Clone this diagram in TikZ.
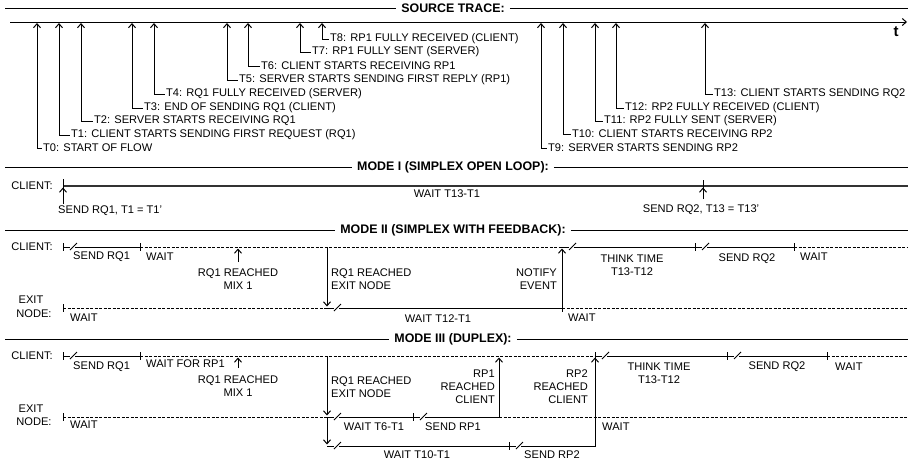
\documentclass[tikz,border=0pt]{standalone}
\usepackage{fontspec}
\setmainfont{Liberation Sans}
\usetikzlibrary{arrows.meta}
\begin{document}
\begin{tikzpicture}[x=1pt,y=-1pt,
  lbl/.style={font=\fontsize{11.1}{13}\selectfont, inner sep=0pt},
  hdr/.style={font=\bfseries\fontsize{12.4}{13}\selectfont, inner sep=0pt},
  ln/.style={line width=1pt},
  dl/.style={line width=1pt, dash pattern=on 3pt off 1.5pt},
  arr/.style={line width=1pt, -{Straight Barb[length=4pt,width=7pt]}},
  brk/.pic={\draw[line width=0.8pt] (0,3) -- (7,-4);},
  tk/.pic={\draw[line width=1pt] (0,-4) -- (0,4);}
]
\useasboundingbox (0,0) rectangle (913,464);

% ---------- headers ----------
\foreach \h/\y/\txt in {h0/8/{SOURCE TRACE:}, h1/167/{MODE I (SIMPLEX OPEN LOOP):}, h2/230/{MODE II (SIMPLEX WITH FEEDBACK):}, h3/339/{MODE III (DUPLEX):}} {
  \node[hdr] (\h) at (453,\y) {\txt};
  \coordinate (\h l) at (5,\y);
  \coordinate (\h r) at (908,\y);
  \draw[ln] (\h l) -- ([xshift=-5pt]\h.west);
  \draw[ln] ([xshift=5pt]\h.east) -- (\h r);
}

% ---------- source trace ----------
\coordinate (ax0) at (10,22);
\coordinate (ax1) at (907,22);
\draw[arr] (ax0) -- (ax1);
\node[font=\bfseries\fontsize{15}{15}\selectfont, inner sep=0pt] (tt) at (896,32) {t};

\foreach \n/\ax/\tx/\ty/\txt in {
  0/37/43/148/{T0: START OF FLOW},
  1/59/71/135/{T1: CLIENT STARTS SENDING FIRST REQUEST (RQ1)},
  2/81/94/121/{T2: SERVER STARTS RECEIVING RQ1},
  3/132/144/108/{T3: END OF SENDING RQ1 (CLIENT)},
  4/154/166/94/{T4: RQ1 FULLY RECEIVED (SERVER)},
  5/227/239/80/{T5: SERVER STARTS SENDING FIRST REPLY (RP1)},
  6/248/261/66/{T6: CLIENT STARTS RECEIVING RP1},
  7/300/312/52/{T7: RP1 FULLY SENT (SERVER)},
  8/322/330/39/{T8: RP1 FULLY RECEIVED (CLIENT)},
  9/541/548/148/{T9: SERVER STARTS SENDING RP2},
  10/563/572/134/{T10: CLIENT STARTS RECEIVING RP2},
  11/595/604/121/{T11: RP2 FULLY SENT (SERVER)},
  12/616/625/108/{T12: RP2 FULLY RECEIVED (CLIENT)},
  13/705/714/94/{T13: CLIENT STARTS SENDING RQ2}} {
  \coordinate (a\n) at (\ax,23);
  \node[lbl, anchor=west] (s\n) at (\tx,\ty) {\txt};
  \draw[arr] ([xshift=-1.5pt]s\n.west) -| (a\n);
}

% ---------- mode I ----------
\node[lbl, anchor=east] (c1) at (53,186) {CLIENT:};
\coordinate (m1s) at (63,186);
\coordinate (m1e) at (908,186);
\draw[line width=1.3pt, black!80] (m1s) -- (m1e);
\draw[ln] (63,179) -- (63,193);
\coordinate (m1ab) at (63,204);
\coordinate (m1at) at (63,187.5);
\draw[arr] (m1ab) -- (m1at);
\node[lbl, anchor=west] (m1l1) at (58,211) {SEND RQ1, T1 = T1'};
\node[lbl] (m1w) at (447,194) {WAIT T13-T1};
\draw[ln] (703,180) -- (703,192);
\coordinate (m1bb) at (703,199);
\coordinate (m1bt) at (703,187.5);
\draw[arr] (m1bb) -- (m1bt);
\node[lbl] (m1l2) at (701,210) {SEND RQ2, T13 = T13'};

% ---------- mode II ----------
\node[lbl, anchor=east] (c2) at (53,247) {CLIENT:};
\node[lbl] (e2a) at (31,300) {EXIT};
\node[lbl] (e2b) at (34,314) {NODE:};
% client line
\pic at (63,247) {tk};
\draw[ln] (63,247) -- (70,247);
\pic at (70,247) {brk};
\draw[ln] (75,247) -- (140,247);
\pic at (140,247) {tk};
\draw[dl] (140,247) -- (562,247);
\draw[ln] (562,247) -- (569,247);
\pic at (569,247) {brk};
\draw[ln] (574,247) -- (695,247);
\pic at (695,247) {tk};
\draw[ln] (695,247) -- (702,247);
\pic at (702,247) {brk};
\draw[ln] (707,247) -- (794,247);
\pic at (794,247) {tk};
\draw[dl] (794,247) -- (908,247);
% exit line
\pic at (63,308) {tk};
\draw[dl] (63,308) -- (327,308);
\draw[ln] (327,308) -- (334,308);
\pic at (334,308) {brk};
\draw[ln] (339,308) -- (562,308);
\pic at (562,308) {tk};
\draw[dl] (562,308) -- (908,308);
% arrows
\coordinate (m2mb) at (238,262);
\coordinate (m2mt) at (238,248.5);
\draw[arr] (m2mb) -- (m2mt);
\coordinate (m2xa) at (327,247);
\coordinate (m2xb) at (327,306.5);
\draw[arr] (m2xa) -- (m2xb);
\coordinate (m2nb) at (562,308);
\coordinate (m2nt) at (562,248.5);
\draw[arr] (m2nb) -- (m2nt);
% labels
\node[lbl, anchor=west] (m2l1) at (73,257) {SEND RQ1};
\node[lbl, anchor=west] (m2l2) at (146,257) {WAIT};
\node[lbl, align=center] (m2l3) at (238,279) {RQ1 REACHED\\MIX 1};
\node[lbl, align=left, anchor=west] (m2l4) at (331,279) {RQ1 REACHED\\EXIT NODE};
\node[lbl, align=right, anchor=east] (m2l5) at (557,279) {NOTIFY\\EVENT};
\node[lbl, align=center] (m2l6) at (632,265.5) {THINK TIME\\T13-T12};
\node[lbl] (m2l7) at (747,259) {SEND RQ2};
\node[lbl, anchor=west] (m2l8) at (800,257) {WAIT};
\node[lbl, anchor=west] (m2l9) at (70,318) {WAIT};
\node[lbl] (m2l10) at (438,319) {WAIT T12-T1};
\node[lbl, anchor=west] (m2l11) at (568,318) {WAIT};

% ---------- mode III ----------
\node[lbl, anchor=east] (c3) at (53,356) {CLIENT:};
\node[lbl] (e3a) at (31,409) {EXIT};
\node[lbl] (e3b) at (34,422) {NODE:};
% client line
\pic at (63,356) {tk};
\draw[ln] (63,356) -- (70,356);
\pic at (70,356) {brk};
\draw[ln] (75,356) -- (140,356);
\pic at (140,356) {tk};
\draw[dl] (140,356) -- (595,356);
\pic at (595,356) {tk};
\draw[ln] (595,356) -- (602,356);
\pic at (602,356) {brk};
\draw[ln] (607,356) -- (727,356);
\pic at (727,356) {tk};
\draw[ln] (727,356) -- (734,356);
\pic at (734,356) {brk};
\draw[ln] (739,356) -- (827,356);
\pic at (827,356) {tk};
\draw[dl] (827,356) -- (908,356);
% exit line
\pic at (63,417) {tk};
\draw[dl] (63,417) -- (327,417);
\draw[ln] (327,417) -- (334,417);
\pic at (334,417) {brk};
\draw[ln] (339,417) -- (413,417);
\pic at (413,417) {tk};
\draw[ln] (413,417) -- (420,417);
\pic at (420,417) {brk};
\draw[ln] (425,417) -- (499,417);
\draw[dl] (499,417) -- (908,417);
% bottom line
\draw[ln] (327,446) -- (334,446);
\pic at (334,446) {brk};
\draw[ln] (339,446) -- (509,446);
\pic at (509,446) {tk};
\draw[ln] (509,446) -- (516,446);
\pic at (516,446) {brk};
\coordinate (m3bs) at (521,446);
\coordinate (m3bc) at (595,446);
\coordinate (m3bt) at (595,357.5);
\draw[arr] (m3bs) -- (m3bc) -- (m3bt);
% arrows
\coordinate (m3mb) at (238,368);
\coordinate (m3mt) at (238,357.5);
\draw[arr] (m3mb) -- (m3mt);
\coordinate (m3xa) at (327,356);
\coordinate (m3xb) at (327,415.5);
\coordinate (m3xc) at (327,417);
\coordinate (m3xd) at (327,444.5);
\draw[arr] (m3xa) -- (m3xb);
\draw[arr] (m3xc) -- (m3xd);
\coordinate (m3rb) at (499,417);
\coordinate (m3rt) at (499,357.5);
\draw[arr] (m3rb) -- (m3rt);
% labels
\node[lbl, anchor=west] (m3l1) at (73,367) {SEND RQ1};
\node[lbl, anchor=west] (m3l2) at (146,364) {WAIT FOR RP1};
\node[lbl, align=center] (m3l3) at (238,386) {RQ1 REACHED\\MIX 1};
\node[lbl, align=left, anchor=west] (m3l4) at (331,387) {RQ1 REACHED\\EXIT NODE};
\node[lbl, align=right, anchor=east] (m3l5) at (495,387) {RP1\\REACHED\\CLIENT};
\node[lbl, align=right, anchor=east] (m3l6) at (588,387) {RP2\\REACHED\\CLIENT};
\node[lbl, align=center] (m3l7) at (659,373.5) {THINK TIME\\T13-T12};
\node[lbl] (m3l8) at (777,367) {SEND RQ2};
\node[lbl, anchor=west] (m3l9) at (835,367) {WAIT};
\node[lbl, anchor=west] (m3l10) at (70,425) {WAIT};
\node[lbl] (m3l11) at (374,427) {WAIT T6-T1};
\node[lbl] (m3l12) at (453,427) {SEND RP1};
\node[lbl, anchor=west] (m3l13) at (602,427) {WAIT};
\node[lbl] (m3l14) at (417,455) {WAIT T10-T1};
\node[lbl] (m3l15) at (552,455) {SEND RP2};
\end{tikzpicture}
\end{document}
